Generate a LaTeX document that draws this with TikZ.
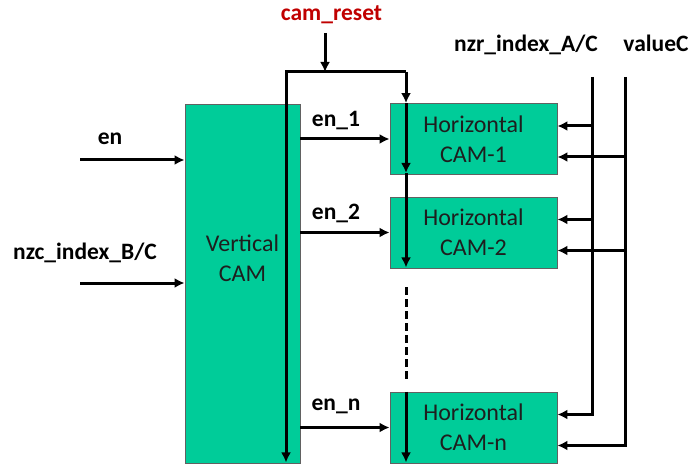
\documentclass[tikz,border=0pt]{standalone}
\usepackage{fontspec}
\setmainfont{Carlito}
\usetikzlibrary{arrows.meta,positioning,calc}
\definecolor{camgreen}{RGB}{0,204,153}
\definecolor{rstred}{RGB}{192,0,0}
\definecolor{ink}{RGB}{30,30,30}

\begin{document}
\begin{tikzpicture}[x=1pt,y=-1pt,
    cam/.style={draw=ink!70,line width=0.9pt,fill=camgreen,inner sep=0pt},
    hcam/.style={cam,minimum width=167pt,minimum height=71pt,align=center,
                 font=\fontsize{24}{30}\selectfont,text=ink},
    sig/.style={draw=black,line width=3pt},
    ar/.style={sig,-{Latex[length=10pt,width=10pt]}},
    lbl/.style={font=\fontsize{23.5}{28}\selectfont\bfseries,anchor=base},
  ]
  \useasboundingbox (0,0) rectangle (693,470);
  \node[cam,minimum width=115pt,minimum height=359pt] (vcam) at (242.5,283.5) {};
  \node[align=center,font=\fontsize{24}{30}\selectfont,text=ink] (vtxt) at (242.5,258) {Vertical\\CAM};
  \node[hcam] (h1) at (473.5,139) {Horizontal\\CAM-1};
  \node[hcam] (h2) at (473.5,232.5) {Horizontal\\CAM-2};
  \node[hcam] (hn) at (473.5,427.5) {Horizontal\\CAM-n};

  % inputs of the vertical CAM
  \coordinate (enIn) at (80,160);
  \coordinate (nzcIn) at (80,283);
  \draw[ar] (enIn) -- (enIn -| vcam.west);
  \draw[ar] (nzcIn) -- (nzcIn -| vcam.west);
  \node[lbl] (lEn) at (110,145) {en};
  \node[lbl] (lNzc) at (85,260) {nzc\_index\_B/C};

  % enables
  \foreach \b/\k/\ly in {h1/1/127,h2/2/220,hn/n/410} {
    \draw[ar] (vcam.east |- \b.west) -- (\b.west);
    \node[lbl] (lEn\k) at (336,\ly) {en\_\k};
  }

  % reset
  \node[lbl,text=rstred] (rst) at (331.5,21) {cam\_reset};
  \coordinate (rstTop) at (325,33);
  \coordinate (rstL) at (286,72);
  \coordinate (rstR) at (406,72);
  \draw[ar] (rstTop) -- (rstTop |- rstL);
  \draw[ar] (rstR) -- (rstL) -- ($(rstL |- vcam.south)+(0,-1)$);
  \draw[ar] (rstR) -- (rstR |- h1.north);
  \draw[ar] (rstR |- h1.north) -- ($(rstR |- h1.south)+(0,-2)$);
  \draw[ar] ($(rstR |- h1.south)+(0,-2)$) -- ($(rstR |- h2.south)+(0,-1)$);
  \draw[sig,dash pattern=on 8pt off 4pt] ($(rstR |- h2.south)+(0,19)$) -- ($(rstR |- hn.north)+(0,-12)$);
  \draw[ar] (rstR |- hn.north) -- ($(rstR |- hn.south)+(0,-1)$);

  % row and value buses
  \node[lbl] (lNzr) at (526,52) {nzr\_index\_A/C};
  \node[lbl] (lVal) at (656,52) {valueC};
  \coordinate (nzrTop) at (592,77);
  \coordinate (valTop) at (625,77);
  \draw[ar] (nzrTop) |- ($(hn.east)+(0,-13)$);
  \draw[ar] (valTop) |- ($(hn.east)+(0,18)$);
  \foreach \b in {h1,h2} {
    \draw[ar] ($(\b.east)+(35,-13)$) -- ($(\b.east)+(0,-13)$);
    \draw[ar] ($(\b.east)+(68,18)$) -- ($(\b.east)+(0,18)$);
  }
\end{tikzpicture}
\end{document}
